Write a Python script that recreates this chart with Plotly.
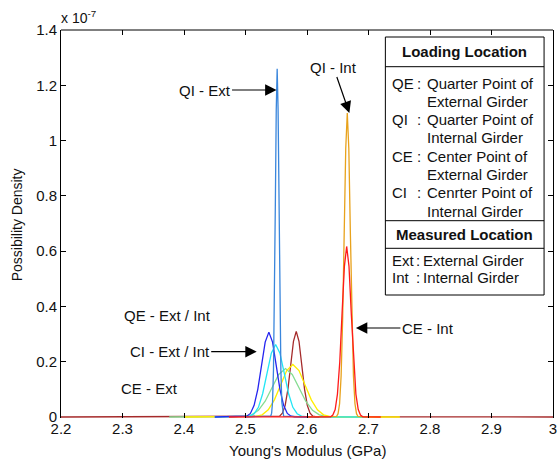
import plotly.graph_objects as go

# ---------------- data (values in units of 1e-7) ----------------
qi_ext_x = [2.500, 2.5410, 2.5425, 2.5440, 2.5455, 2.5470, 2.5485, 2.5500, 2.5515, 2.5530, 2.5545, 2.5560, 2.5575, 2.5590, 2.5605, 2.5620, 2.600]
qi_ext_y = [0.0, 0.003, 0.014, 0.055, 0.170, 0.409, 0.764, 1.112, 1.260, 1.112, 0.764, 0.409, 0.170, 0.055, 0.014, 0.003, 0.0]

qi_int_x = [2.600, 2.648, 2.6505, 2.653, 2.6555, 2.658, 2.6605, 2.663, 2.6655, 2.668, 2.6705, 2.673, 2.6755, 2.678, 2.6805, 2.683, 2.700]
qi_int_y = [0.0, 0.002, 0.012, 0.048, 0.149, 0.357, 0.667, 0.971, 1.100, 0.971, 0.667, 0.357, 0.149, 0.048, 0.012, 0.002, 0.0]

ce_int_x = [2.473, 2.6383, 2.6420, 2.6458, 2.6495, 2.6533, 2.6570, 2.6608, 2.6645, 2.6683, 2.6720, 2.6758, 2.6795, 2.6833, 2.6870, 2.6908, 2.720]
ce_int_y = [0.0, 0.001, 0.007, 0.027, 0.083, 0.200, 0.374, 0.545, 0.617, 0.545, 0.374, 0.200, 0.083, 0.027, 0.007, 0.001, 0.0]

qe_x = [2.450, 2.496, 2.502, 2.508, 2.514, 2.520, 2.526, 2.532, 2.538, 2.544, 2.550, 2.556, 2.562, 2.568, 2.574, 2.580, 2.620]
qe_y = [0.0, 0.001, 0.003, 0.013, 0.042, 0.100, 0.186, 0.271, 0.307, 0.271, 0.186, 0.100, 0.042, 0.013, 0.003, 0.001, 0.0]

ci_x = [2.450, 2.500, 2.507, 2.514, 2.521, 2.528, 2.535, 2.542, 2.549, 2.556, 2.563, 2.570, 2.577, 2.584, 2.591, 2.598, 2.700]
ci_y = [0.0, 0.001, 0.003, 0.012, 0.035, 0.085, 0.159, 0.231, 0.262, 0.231, 0.159, 0.085, 0.035, 0.012, 0.003, 0.001, 0.0]

ce_ext_x = [2.376, 2.488, 2.499, 2.510, 2.521, 2.532, 2.543, 2.554, 2.565, 2.576, 2.587, 2.598, 2.609, 2.620, 2.631, 2.642, 2.700]
ce_ext_y = [0.0, 0.000, 0.002, 0.008, 0.024, 0.057, 0.106, 0.154, 0.175, 0.154, 0.106, 0.057, 0.024, 0.008, 0.002, 0.000, 0.0]

yel_x = [2.400, 2.507, 2.517, 2.527, 2.537, 2.547, 2.557, 2.567, 2.577, 2.587, 2.597, 2.607, 2.617, 2.627, 2.637, 2.647, 2.751]
yel_y = [0.0, 0.000, 0.002, 0.008, 0.026, 0.062, 0.115, 0.168, 0.190, 0.168, 0.115, 0.062, 0.026, 0.008, 0.002, 0.000, 0.0]

brn_x = [2.200, 2.551, 2.5555, 2.560, 2.5645, 2.569, 2.5735, 2.578, 2.5825, 2.587, 2.5915, 2.596, 2.6005, 2.605, 2.6095, 2.614, 3.000]
brn_y = [0.0, 0.001, 0.003, 0.014, 0.042, 0.101, 0.188, 0.274, 0.310, 0.274, 0.188, 0.101, 0.042, 0.014, 0.003, 0.001, 0.0]

x_ticks = [2.2, 2.3, 2.4, 2.5, 2.6, 2.7, 2.8, 2.9, 3.0]
x_ticktext = ["2.2", "2.3", "2.4", "2.5", "2.6", "2.7", "2.8", "2.9", "3"]
y_ticks = [0, 0.2, 0.4, 0.6, 0.8, 1.0, 1.2, 1.4]
y_ticktext = ["0", "0.2", "0.4", "0.6", "0.8", "1", "1.2", "1.4"]

# ---------------- figure ----------------
W, H = 559, 463
L, R, T, B = 61, 557, 30, 418
FONT = "Arial, Liberation Sans, sans-serif"
TXT = "#111111"
FS = 15
Y0 = -0.0036  # leaves the y=0 baseline of the curves fully visible


def px(x):
    return (x - L) / (R - L)


def py(y):
    return (B - y) / (B - T)


def yv(pix):
    return Y0 + (B - pix) / (B - T) * (1.4 - Y0)


def xv(pix):
    return 2.2 + (pix - L) / (R - L) * 0.8


fig = go.Figure()
series = [
    (brn_x, brn_y, "#a52a2a", "CE - Ext"),
    (ce_ext_x, ce_ext_y, "#86dc92", "CE - Ext (2)"),
    (yel_x, yel_y, "#ffee00", "CI - Int"),
    (ci_x, ci_y, "#22e6f5", "CI - Ext"),
    (qe_x, qe_y, "#2424f0", "QE - Ext"),
    (qi_ext_x, qi_ext_y, "#3a86dc", "QI - Ext"),
    (qi_int_x, qi_int_y, "#e8a21c", "QI - Int"),
    (ce_int_x, ce_int_y, "#ff1a1a", "CE - Int"),
]
for xs, ys, col, name in series:
    fig.add_trace(go.Scatter(x=xs, y=ys, mode="lines", name=name,
                             line=dict(color=col, width=1.3), showlegend=False))

fig.update_layout(
    width=W, height=H,
    margin=dict(l=L, r=W - R, t=T, b=H - B),
    paper_bgcolor="white", plot_bgcolor="white",
    font=dict(family=FONT, size=FS, color=TXT),
    xaxis=dict(range=[2.2, 3.0], tickvals=x_ticks, ticktext=x_ticktext,
               ticks="inside", ticklen=5, tickcolor="black", showline=False,
               mirror="allticks", showgrid=False, zeroline=False,
               ticklabeloverflow="allow",
               tickfont=dict(family=FONT, size=FS, color=TXT)),
    yaxis=dict(range=[Y0, 1.4], tickvals=y_ticks, ticktext=y_ticktext,
               ticks="inside", ticklen=5, tickcolor="black", showline=True,
               linecolor="black", linewidth=1, mirror="allticks",
               showgrid=False, zeroline=False,
               tickfont=dict(family=FONT, size=FS, color=TXT)),
)

ann = []
# axis titles and exponent
ann.append(dict(text="Young's Modulus (GPa)", x=px(309), y=py(450), xref="paper", yref="paper",
                showarrow=False, xanchor="center", yanchor="middle", font=dict(size=FS)))
ann.append(dict(text="Possibility Density", x=px(17), y=py(225), xref="paper", yref="paper",
                showarrow=False, textangle=-90, xanchor="center", yanchor="middle", font=dict(size=14)))
ann.append(dict(text="x 10<sup>-7</sup>", x=px(59), y=py(17), xref="paper", yref="paper",
                showarrow=False, xanchor="left", yanchor="middle", font=dict(size=14)))

# curve labels with arrows
arrow = dict(showarrow=True, arrowhead=2, arrowsize=1.9, arrowwidth=1.2, arrowcolor="black",
             xref="x", yref="y", font=dict(size=FS))
ann.append(dict(text="QI - Ext", x=xv(278.3), y=yv(90), ax=-72, ay=0, **arrow))
ann.append(dict(text="QI - Int", x=xv(351.7), y=yv(113), ax=-16, ay=-46, **arrow))
ann.append(dict(text="CI - Ext / Int", x=xv(258.3), y=yv(351.7), ax=-87, ay=0, **arrow))
ann.append(dict(text="CE - Int", x=xv(358.3), y=yv(328), ax=72, ay=0, **arrow))
ann.append(dict(text="QE - Ext / Int", x=px(168), y=py(315), xref="paper", yref="paper",
                showarrow=False, xanchor="center", yanchor="middle", font=dict(size=FS)))
ann.append(dict(text="CE - Ext", x=px(150), y=py(388.3), xref="paper", yref="paper",
                showarrow=False, xanchor="center", yanchor="middle", font=dict(size=FS)))

# frame top line
shapes = [dict(type="line", xref="paper", yref="paper", x0=0, x1=1, y0=1, y1=1,
               line=dict(color="black", width=1), layer="above")]

# legend box
bx0, bx1, by0, by1 = 388, 548, 37, 295
shapes.append(dict(type="rect", xref="paper", yref="paper", x0=px(bx0), x1=px(bx1), y0=py(by0), y1=py(by1),
                   line=dict(color="black", width=1), fillcolor="white", layer="above"))
for yy in [66.7, 220.7, 248.3]:
    shapes.append(dict(type="line", xref="paper", yref="paper", x0=px(bx0), x1=px(bx1), y0=py(yy), y1=py(yy),
                       line=dict(color="black", width=1), layer="above"))

ann.append(dict(text="<b>Loading Location</b>", x=px((bx0 + bx1) / 2), y=py(51.7), xref="paper", yref="paper",
                showarrow=False, xanchor="center", yanchor="middle", font=dict(size=FS)))
ann.append(dict(text="<b>Measured Location</b>", x=px((bx0 + bx1) / 2), y=py(234), xref="paper", yref="paper",
                showarrow=False, xanchor="center", yanchor="middle", font=dict(size=FS)))

loading = [("QE", "Quarter Point of", "External Girder", 83.3),
           ("QI", "Quarter Point of", "Internal Girder", 119.3),
           ("CE", "Center Point of", "External Girder", 156.0),
           ("CI", "Cenrter Point of", "Internal Girder", 192.7)]
for ab, l1, l2, yy in loading:
    ann.append(dict(text=ab, x=px(393), y=py(yy), xref="paper", yref="paper", showarrow=False,
                    xanchor="left", yanchor="middle", font=dict(size=FS)))
    ann.append(dict(text=":", x=px(418), y=py(yy), xref="paper", yref="paper", showarrow=False,
                    xanchor="left", yanchor="middle", font=dict(size=FS)))
    ann.append(dict(text=l1, x=px(428), y=py(yy), xref="paper", yref="paper", showarrow=False,
                    xanchor="left", yanchor="middle", font=dict(size=FS)))
    ann.append(dict(text=l2, x=px(428), y=py(yy + 18.3), xref="paper", yref="paper", showarrow=False,
                    xanchor="left", yanchor="middle", font=dict(size=FS)))

measured = [("Ext", "External Girder", 260.7), ("Int", "Internal Girder", 277.3)]
for ab, l1, yy in measured:
    ann.append(dict(text=ab, x=px(393), y=py(yy), xref="paper", yref="paper", showarrow=False,
                    xanchor="left", yanchor="middle", font=dict(size=FS)))
    ann.append(dict(text=":", x=px(417), y=py(yy), xref="paper", yref="paper", showarrow=False,
                    xanchor="left", yanchor="middle", font=dict(size=FS)))
    ann.append(dict(text=l1, x=px(424), y=py(yy), xref="paper", yref="paper", showarrow=False,
                    xanchor="left", yanchor="middle", font=dict(size=FS)))

fig.update_layout(annotations=ann, shapes=shapes)
fig.write_html("out.html")
